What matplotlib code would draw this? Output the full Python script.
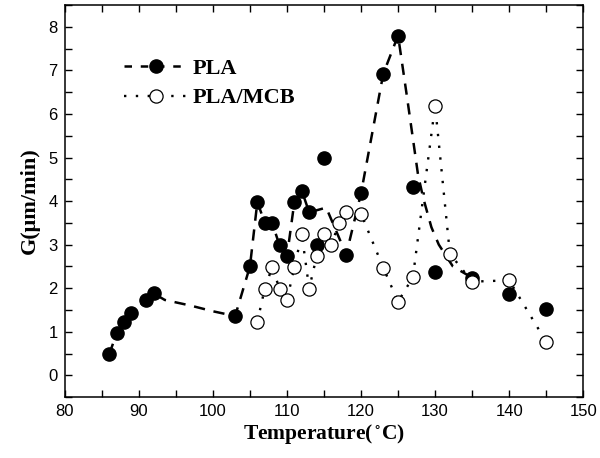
import matplotlib
matplotlib.use("Agg")
import matplotlib.pyplot as plt
from matplotlib.lines import Line2D
from matplotlib.ticker import MultipleLocator

# ========= data =========
pla_t = [86, 87, 88, 89, 91, 92, 103, 105, 106, 107, 108, 109, 110, 111, 112,
         113, 114, 115, 118, 120, 123, 125, 127, 130, 135, 140, 145]
pla_g = [0.48, 0.97, 1.22, 1.42, 1.73, 1.88, 1.36, 2.5, 3.98, 3.5, 3.5, 2.98, 2.73, 3.98, 4.24,
         3.74, 2.98, 5.0, 2.77, 4.18, 6.92, 7.8, 4.33, 2.37, 2.24, 1.86, 1.52]

mcb_t = [106, 107, 108, 109, 110, 111, 112, 113, 114, 115, 116, 117, 118, 120,
         123, 125, 127, 130, 132, 135, 140, 145]
mcb_g = [1.23, 1.99, 2.48, 1.99, 1.73, 2.48, 3.24, 1.99, 2.73, 3.24, 2.99, 3.49, 3.74, 3.71,
         2.47, 1.69, 2.25, 6.19, 2.79, 2.15, 2.18, 0.77]

# dashed guide line for PLA (vertices)
pla_fit_t = [86, 87, 88, 89, 91, 92, 93.5, 97, 100, 103, 105, 106, 107, 108, 109, 110, 111,
             112, 113, 115.3, 118, 120, 123, 125, 126.2, 127.7, 128.4, 129.5, 130.5, 132.4, 135]
pla_fit_g = [0.48, 0.97, 1.22, 1.42, 1.73, 1.88, 1.73, 1.6, 1.47, 1.36, 2.5, 3.98, 3.5, 3.5,
             2.98, 2.73, 3.98, 4.24, 3.74, 3.85, 2.77, 4.18, 6.92, 7.8, 6.4, 4.6, 4.07, 3.4,
             3.0, 2.5, 2.24]

# ========= plot =========
plt.rcParams["mathtext.fontset"] = "stix"
fig = plt.figure(figsize=(6.0, 4.58), dpi=100)
ax = fig.add_axes([0.108, 0.133, 0.864, 0.856])

DASH = (0, (4.5, 3.5))
DOT = (0, (1, 4))
MS = 9.5

ax.plot(pla_fit_t, pla_fit_g, color="black", lw=1.8, linestyle=DASH, zorder=2)
ax.plot(mcb_t, mcb_g, color="black", lw=1.7, linestyle=DOT, zorder=2)
ax.plot(pla_t, pla_g, linestyle="none", marker="o", ms=MS, mfc="black", mec="black", zorder=3)
ax.plot(mcb_t, mcb_g, linestyle="none", marker="o", ms=MS, mfc="white", mec="black",
        mew=0.9, zorder=4)

handles = [
    Line2D([], [], color="black", lw=1.8, linestyle=(0, (3, 3.5)), marker="o", ms=MS,
           mfc="black", mec="black"),
    Line2D([], [], color="black", lw=1.7, linestyle=DOT, marker="o", ms=MS,
           mfc="white", mec="black", mew=0.9),
]
ax.legend(handles, ["PLA", "PLA/MCB"], loc="upper left", bbox_to_anchor=(0.075, 0.915),
          frameon=False, handlelength=2.9, handletextpad=0.2, labelspacing=0.4,
          prop={"family": "Liberation Serif", "weight": "bold", "size": 16})

ax.set_xlim(80, 150)
ax.set_ylim(-0.5, 8.5)
ax.xaxis.set_major_locator(MultipleLocator(10))
ax.xaxis.set_minor_locator(MultipleLocator(5))
ax.yaxis.set_major_locator(MultipleLocator(1))
ax.yaxis.set_minor_locator(MultipleLocator(0.5))
ax.tick_params(which="both", direction="in", top=True, right=True, width=1.0)
ax.tick_params(which="major", length=5, labelsize=12, pad=5)
ax.tick_params(which="minor", length=5)
for lab in ax.get_xticklabels() + ax.get_yticklabels():
    lab.set_family("Liberation Sans")
for sp in ax.spines.values():
    sp.set_linewidth(1.1)

ax.set_xlabel(r"Temperature($\,^{\circ}$C)", fontfamily="Liberation Serif",
              fontweight="bold", fontsize=15.5, labelpad=2)
ax.set_ylabel("G(μm/min)", fontfamily="Liberation Serif", fontweight="bold",
              fontsize=16, labelpad=6)

fig.savefig("out.png", dpi=100)
